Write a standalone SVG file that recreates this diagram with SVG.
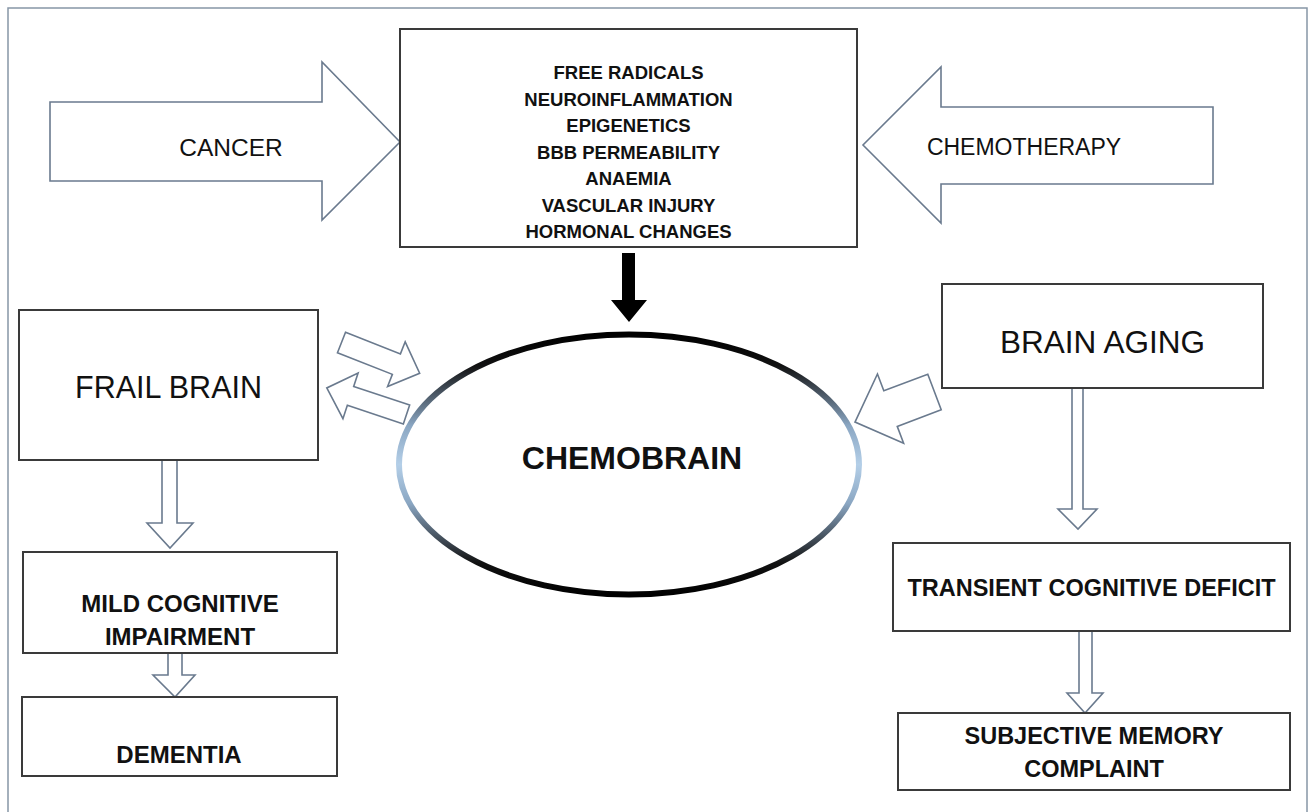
<svg xmlns="http://www.w3.org/2000/svg" width="1309" height="812" viewBox="0 0 1309 812">
<defs>
<style>
.frame{fill:none;stroke:#8796a6;stroke-width:1.5}
.box{fill:#fff;stroke:#3a3a3a;stroke-width:2}
.blk{fill:#fff;stroke:#6a7a8e;stroke-width:1.6;stroke-linejoin:miter}
.reg{font-family:"Liberation Sans",Arial,sans-serif;fill:#111;text-anchor:middle}
.bld{font-family:"Liberation Sans",Arial,sans-serif;font-weight:bold;fill:#111;text-anchor:middle}
</style>
<linearGradient id="eg" x1="0" y1="0" x2="0" y2="1">
<stop offset="0" stop-color="#000"/>
<stop offset="0.12" stop-color="#111"/>
<stop offset="0.35" stop-color="#8aa6c2"/>
<stop offset="0.5" stop-color="#b4cfe8"/>
<stop offset="0.65" stop-color="#8aa6c2"/>
<stop offset="0.88" stop-color="#111"/>
<stop offset="1" stop-color="#000"/>
</linearGradient>
</defs>
<rect x="0" y="0" width="1309" height="812" fill="#fff"/>
<rect class="frame" x="8" y="8" width="1299" height="820"/>

<g id="connectors">
<polygon id="arrow-cancer" class="blk" points="50,102 322,102 322,62 400,142 322,220 322,181 50,181"/>
<polygon id="arrow-chemo" class="blk" points="1213,107 941,107 941,67 863,145 941,223 941,184 1213,184"/>
<polygon id="arrow-top-down" fill="#000" points="622,253 635,253 635,300 647,300 629,322 611,300 622,300"/>
<polygon id="arrow-frail-to-chemo" class="blk" transform="translate(341.5,342.5) rotate(21.5)" points="0,-11 59,-11 59,-24 84,0 59,24 59,11 0,11"/>
<polygon id="arrow-chemo-to-frail" class="blk" transform="translate(406.5,414.5) rotate(198.4)" points="0,-10 59,-10 59,-24 84,0 59,24 59,10 0,10"/>
<polygon id="arrow-aging-to-chemo" class="blk" transform="translate(934.5,392) rotate(159.3)" points="0,-19 47,-19 47,-37 85,0 47,37 47,19 0,19"/>
<polygon id="arrow-frail-mci" class="blk" points="162,460 177,460 177,523 193,523 170,548 147,523 162,523"/>
<polygon id="arrow-mci-dem" class="blk" points="168,653 182,653 182,675 195,675 175,697 153,675 168,675"/>
<polygon id="arrow-aging-tcd" class="blk" points="1072,388 1083,388 1083,509 1097,509 1078,529 1058,509 1072,509"/>
<polygon id="arrow-tcd-smc" class="blk" points="1079,631 1092,631 1092,693 1103,693 1085,713 1067,693 1079,693"/>
</g>

<g id="label-cancer"><text class="reg" x="231" y="156" font-size="24.5">CANCER</text></g>
<g id="label-chemotherapy"><text class="reg" x="1024" y="155" font-size="23">CHEMOTHERAPY</text></g>

<g id="node-mechanisms">
<rect class="box" x="400" y="29" width="457" height="218"/>
<text class="bld" font-size="18.5" x="628.5" y="79">FREE RADICALS</text>
<text class="bld" font-size="18.5" x="628.5" y="106">NEUROINFLAMMATION</text>
<text class="bld" font-size="18.5" x="628.5" y="132">EPIGENETICS</text>
<text class="bld" font-size="18.5" x="628.5" y="159">BBB PERMEABILITY</text>
<text class="bld" font-size="18.5" x="628.5" y="185">ANAEMIA</text>
<text class="bld" font-size="18.5" x="628.5" y="212">VASCULAR INJURY</text>
<text class="bld" font-size="18.5" x="628.5" y="238">HORMONAL CHANGES</text>
</g>

<g id="node-chemobrain">
<ellipse cx="629" cy="464.5" rx="230" ry="130" fill="#fff" stroke="url(#eg)" stroke-width="6"/>
<text class="bld" x="632" y="469" font-size="32">CHEMOBRAIN</text>
</g>

<g id="node-frail-brain">
<rect class="box" x="19" y="310" width="299" height="150"/>
<text class="reg" x="168.5" y="398" font-size="30.5">FRAIL BRAIN</text>
</g>

<g id="node-mci">
<rect class="box" x="23" y="552" width="314" height="101"/>
<text class="bld" x="180" y="612" font-size="24">MILD COGNITIVE</text>
<text class="bld" x="180" y="645" font-size="24">IMPAIRMENT</text>
</g>

<g id="node-dementia">
<rect class="box" x="22" y="697" width="315" height="79"/>
<text class="bld" x="179" y="763" font-size="24">DEMENTIA</text>
</g>

<g id="node-brain-aging">
<rect class="box" x="942" y="284" width="321" height="104"/>
<text class="reg" x="1102.5" y="353" font-size="31.5">BRAIN AGING</text>
</g>

<g id="node-tcd">
<rect class="box" x="893" y="543" width="397" height="88"/>
<text class="bld" x="1091.5" y="596" font-size="23.5">TRANSIENT COGNITIVE DEFICIT</text>
</g>

<g id="node-smc">
<rect class="box" x="898" y="713" width="392" height="77"/>
<text class="bld" x="1094" y="744" font-size="23.5">SUBJECTIVE MEMORY</text>
<text class="bld" x="1094" y="777" font-size="23.5">COMPLAINT</text>
</g>
</svg>
